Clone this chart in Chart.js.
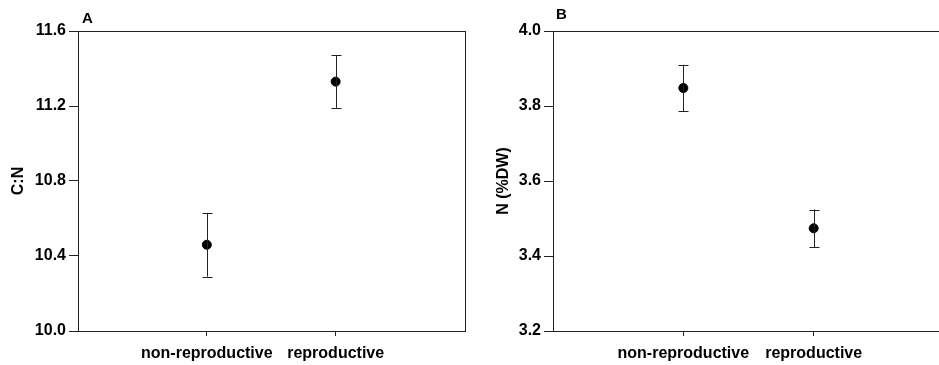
<!DOCTYPE html>
<html>
<head>
<meta charset="utf-8">
<script src="https://cdn.jsdelivr.net/npm/chart.js@4.4.1/dist/chart.umd.min.js"></script>
<style>
  html, body { margin: 0; padding: 0; background: #fff; overflow: hidden; }
  body { width: 939px; height: 365px; position: relative; }
  .panel { position: absolute; top: 0; height: 365px; }
  #wrapA { left: 0; width: 470px; }
  #wrapB { left: 470px; width: 480px; }
</style>
</head>
<body>
<div class="panel" id="wrapA"><canvas id="chartA" width="470" height="365"></canvas></div>
<div class="panel" id="wrapB"><canvas id="chartB" width="480" height="365"></canvas></div>
<script>
// Groups on the x axis
const categories = ['non-reproductive', 'reproductive'];

// Panel A: C:N ratio, mean and standard error
const cnMean = [10.46, 11.33];
const cnErr  = [0.17, 0.14];
const cnTicks = [10.0, 10.4, 10.8, 11.2, 11.6];

// Panel B: nitrogen content (% dry weight), mean and standard error
const nMean = [3.848, 3.474];
const nErr  = [0.062, 0.05];
const nTicks = [3.2, 3.4, 3.6, 3.8, 4.0];

const FONT = "'Liberation Sans', Arial, Helvetica, sans-serif";
const AXIS_COLOR = '#222';

// Error bars and the framed plot box, drawn through the chart's scales
const errorBarPlugin = {
  id: 'errorBars',
  afterDatasetsDraw(chart, args, opts) {
    const { ctx, scales: { x, y } } = chart;
    const ds = chart.data.datasets[0];
    ctx.save();
    ctx.strokeStyle = '#222';
    ctx.lineWidth = 1;
    ds.data.forEach((p, i) => {
      const px = Math.round(x.getPixelForValue(p.x)) + 0.5;
      const top = y.getPixelForValue(p.y + opts.errors[i]);
      const bot = y.getPixelForValue(p.y - opts.errors[i]);
      ctx.beginPath();
      ctx.moveTo(px, top); ctx.lineTo(px, bot);
      ctx.moveTo(px - 5, Math.round(top) + 0.5); ctx.lineTo(px + 5, Math.round(top) + 0.5);
      ctx.moveTo(px - 5, Math.round(bot) + 0.5); ctx.lineTo(px + 5, Math.round(bot) + 0.5);
      ctx.stroke();
    });
    ctx.restore();
  },
  beforeDatasetsDraw(chart) {
    const { ctx, chartArea: a } = chart;
    ctx.save();
    ctx.strokeStyle = AXIS_COLOR;
    ctx.lineWidth = 1;
    ctx.strokeRect(Math.round(a.left) + 0.5, Math.round(a.top) + 0.5,
                   Math.round(a.right - a.left), Math.round(a.bottom - a.top));
    ctx.restore();
  }
};

// Panel letter above the top-left corner of the plot box
const panelLabelPlugin = {
  id: 'panelLabel',
  afterDraw(chart, args, opts) {
    const { ctx, chartArea: a } = chart;
    ctx.save();
    ctx.font = `bold 15px ${FONT}`;
    ctx.fillStyle = '#000';
    ctx.textBaseline = 'alphabetic';
    ctx.fillText(opts.text, a.left + opts.dx, a.top - opts.dy);
    ctx.restore();
  }
};

function makeChart(id, means, errs, ticks, yTitle, cfg) {
  const points = means.map((m, i) => ({ x: i + 1, y: m }));
  return new Chart(document.getElementById(id), {
    type: 'scatter',
    data: {
      datasets: [{
        data: points,
        backgroundColor: '#000',
        borderColor: '#000',
        pointRadius: 4.5,
        pointHoverRadius: 4.5,
        showLine: false
      }]
    },
    plugins: [errorBarPlugin, panelLabelPlugin],
    options: {
      responsive: false,
      animation: false,
      events: [],
      layout: { padding: { top: 31, right: cfg.right, left: 0, bottom: 0 } },
      plugins: {
        legend: { display: false },
        tooltip: { enabled: false },
        errorBars: { errors: errs },
        panelLabel: { text: cfg.letter, dx: cfg.letterDx, dy: cfg.letterDy }
      },
      scales: {
        x: {
          type: 'linear',
          min: 0, max: 3,
          afterBuildTicks: s => { s.ticks = categories.map((c, i) => ({ value: i + 1 })); },
          afterFit: s => { s.height = 34; },
          ticks: {
            callback: v => categories[v - 1],
            color: '#000',
            font: { family: FONT, size: 16, weight: 'bold' },
            padding: 8,
            maxRotation: 0,
            autoSkip: false
          },
          grid: { drawOnChartArea: false, drawTicks: true, tickLength: 5, color: AXIS_COLOR },
          border: { display: true, color: AXIS_COLOR }
        },
        y: {
          min: ticks[0], max: ticks[ticks.length - 1],
          afterBuildTicks: s => { s.ticks = ticks.map(v => ({ value: v })); },
          afterFit: s => { s.width = cfg.yWidth; },
          ticks: {
            callback: v => Number(v).toFixed(1),
            color: '#000',
            font: { family: FONT, size: 16, weight: 'bold' },
            padding: 3
          },
          grid: { drawOnChartArea: false, drawTicks: true, tickLength: 9, color: AXIS_COLOR },
          border: { display: true, color: AXIS_COLOR },
          title: {
            display: true,
            text: yTitle,
            color: '#000',
            font: { family: FONT, size: 16, weight: 'bold' },
            padding: { top: cfg.titlePad, bottom: 4 }
          }
        }
      }
    }
  });
}

makeChart('chartA', cnMean, cnErr, cnTicks, 'C:N',
  { right: 5, yWidth: 78, letter: 'A', letterDx: 4, letterDy: 8, titlePad: 9 });
makeChart('chartB', nMean, nErr, nTicks, 'N (%DW)',
  { right: 6, yWidth: 83, letter: 'B', letterDx: 3, letterDy: 12, titlePad: 24 });
</script>
</body>
</html>
